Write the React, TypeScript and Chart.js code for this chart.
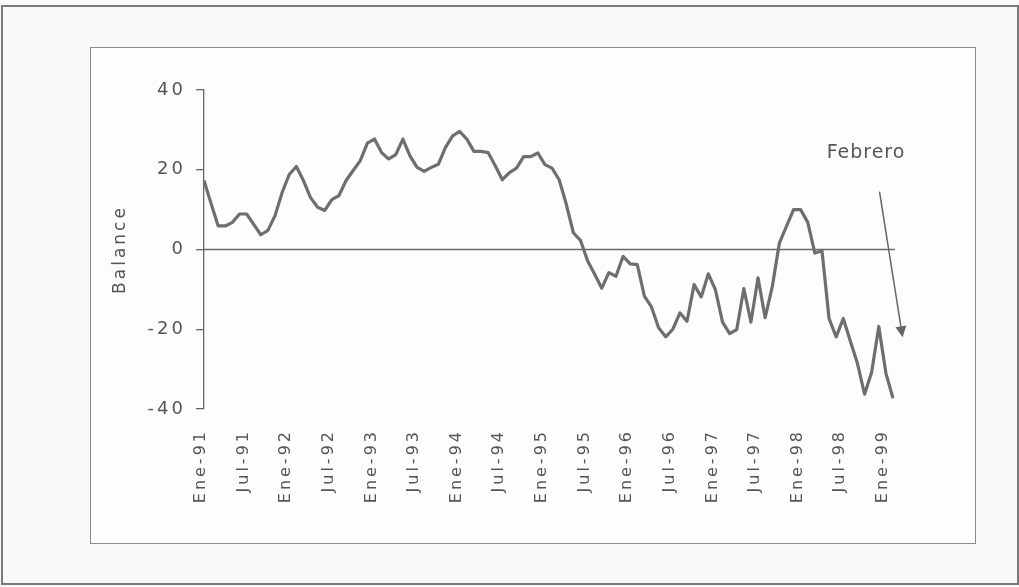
import React, { useEffect, useRef } from "react";
import { Chart, registerables } from "chart.js";

Chart.register(...registerables);

const monthNames = ["Ene", "Feb", "Mar", "Abr", "May", "Jun", "Jul", "Ago", "Sep", "Oct", "Nov", "Dic"];
const years = ["91", "92", "93", "94", "95", "96", "97", "98", "99"];

const balance = [
  17.3, 11.5, 5.9, 5.9, 6.8, 8.9, 8.9, 6.3, 3.7, 4.8, 8.5, 14.3,
  18.8, 20.8, 17.3, 13.0, 10.6, 9.8, 12.5, 13.5, 17.3, 19.8, 22.3, 26.7,
  27.7, 24.3, 22.7, 23.8, 27.7, 23.5, 20.6, 19.6, 20.6, 21.4, 25.6, 28.5,
  29.6, 27.7, 24.6, 24.6, 24.3, 21.0, 17.5, 19.3, 20.4, 23.3, 23.3, 24.2,
  21.3, 20.4, 17.5, 11.4, 4.2, 2.3, -2.8, -6.2, -9.7, -5.8, -6.7, -1.7,
  -3.6, -3.8, -11.7, -14.4, -19.6, -21.9, -20.0, -15.9, -18.0, -8.8, -11.9, -6.1,
  -10.1, -18.2, -21.1, -20.1, -9.8, -18.2, -7.1, -17.1, -9.4, 1.6, 5.8, 10.0,
  10.0, 6.8, -0.9, -0.3, -17.3, -21.9, -17.3, -23.0, -28.6, -36.3, -30.7, -19.3,
  -31.0, -37.3,
];

const categories: string[] = [];
for (const y of years) {
  for (const m of monthNames) {
    if (categories.length < balance.length) categories.push(`${m}-${y}`);
  }
}

const yTicks = [-40, -20, 0, 20, 40];
const annotationText = "Febrero";
// arrow from (category index, value) to (category index, value)
const arrowStart = [95.1, 14.5];
const arrowEnd = [98.35, -22];
const annotationPos = [93.2, 22.9];

const FONT = "'DejaVu Sans', Verdana, sans-serif";
const TEXT = "#555";

export default function App() {
  const ref = useRef<HTMLCanvasElement | null>(null);

  useEffect(() => {
    if (!ref.current) return;
    const decor = {
      id: "decor",
      beforeDraw(chart: any) {
        chart.ctx.letterSpacing = "3px";
      },
      beforeDatasetsDraw(chart: any) {
        const { ctx, chartArea, scales } = chart;
        const y0 = scales.y.getPixelForValue(0);
        ctx.save();
        ctx.strokeStyle = "#6a6a6a";
        ctx.lineWidth = 1.3;
        ctx.beginPath();
        ctx.moveTo(chartArea.left, y0);
        ctx.lineTo(chartArea.right + 2, y0);
        ctx.stroke();
        ctx.restore();
      },
      afterDraw(chart: any) {
        const { ctx, scales } = chart;
        const x = scales.x, y = scales.y;
        const x1 = x.getPixelForValue(arrowStart[0]);
        const y1 = y.getPixelForValue(arrowStart[1]);
        const x2 = x.getPixelForValue(arrowEnd[0]);
        const y2 = y.getPixelForValue(arrowEnd[1]);
        const ang = Math.atan2(y2 - y1, x2 - x1);
        const headLen = 11;
        const headW = 5.5;
        const bx = x2 - headLen * Math.cos(ang);
        const by = y2 - headLen * Math.sin(ang);
        ctx.save();
        ctx.strokeStyle = "#666";
        ctx.fillStyle = "#666";
        ctx.lineWidth = 1.5;
        ctx.beginPath();
        ctx.moveTo(x1, y1);
        ctx.lineTo(bx, by);
        ctx.stroke();
        ctx.beginPath();
        ctx.moveTo(x2, y2);
        ctx.lineTo(bx + headW * Math.sin(ang), by - headW * Math.cos(ang));
        ctx.lineTo(bx - headW * Math.sin(ang), by + headW * Math.cos(ang));
        ctx.closePath();
        ctx.fill();
        ctx.letterSpacing = "1px";
        ctx.font = `19px ${FONT}`;
        ctx.fillStyle = TEXT;
        ctx.textAlign = "center";
        ctx.textBaseline = "alphabetic";
        ctx.fillText(annotationText, x.getPixelForValue(annotationPos[0]), y.getPixelForValue(annotationPos[1]));
        ctx.letterSpacing = "0px";
        ctx.restore();
      },
    };

    const chart = new Chart(ref.current, {
      type: "line",
      data: {
        labels: categories,
        datasets: [
          {
            label: "Balance",
            data: balance,
            borderColor: "#6e6e6e",
            borderWidth: 3.2,
            pointRadius: 0,
            tension: 0,
            fill: false,
            borderJoinStyle: "round",
          },
        ],
      },
      options: {
        animation: false,
        responsive: false,
        devicePixelRatio: 1,
        layout: { padding: { left: 100, top: 90, right: 126, bottom: 58 } },
        plugins: { legend: { display: false }, tooltip: { enabled: false } },
        scales: {
          x: {
            type: "category",
            offset: false,
            afterFit: (s: any) => { s.height = 120; },
            grid: { display: false, drawTicks: false },
            border: { display: false },
            ticks: {
              autoSkip: false,
              minRotation: 90,
              maxRotation: 90,
              padding: 20,
              labelOffset: -3,
              color: TEXT,
              font: { family: FONT, size: 16 },
              callback: (_v: any, i: number) => (i % 6 === 0 ? categories[i] : ""),
            },
          },
          y: {
            min: yTicks[0],
            max: yTicks[yTicks.length - 1],
            afterFit: (s: any) => { s.width = 104; },
            afterBuildTicks: (s: any) => { s.ticks = yTicks.map((v) => ({ value: v })); },
            grid: { display: true, drawOnChartArea: false, drawTicks: true, tickLength: 8, color: "#666", lineWidth: 1.3 },
            border: { display: true, color: "#666", width: 1.3 },
            ticks: { padding: 10, color: TEXT, font: { family: FONT, size: 18 } },
            title: {
              display: true,
              text: "Balance",
              color: TEXT,
              font: { family: FONT, size: 17 },
              padding: { top: 10, bottom: 0 },
            },
          },
        },
      },
      plugins: [decor],
    } as any);
    return () => chart.destroy();
  }, []);

  return (
    <div style={{ position: "fixed", left: 0, top: 0, width: 1019, height: 587, background: "#f9f9f8", overflow: "hidden" }}>
      <div style={{ position: "absolute", left: 1, top: 5, width: 1014, height: 576, border: "2px solid #7a7a7a" }} />
      <div style={{ position: "absolute", left: 90, top: 47, width: 884, height: 495, border: "1.5px solid #8a8a8a", background: "#fdfdfd" }} />
      <canvas ref={ref} width={1019} height={587} style={{ position: "absolute", left: 0, top: 0, width: 1019, height: 587 }} />
    </div>
  );
}
